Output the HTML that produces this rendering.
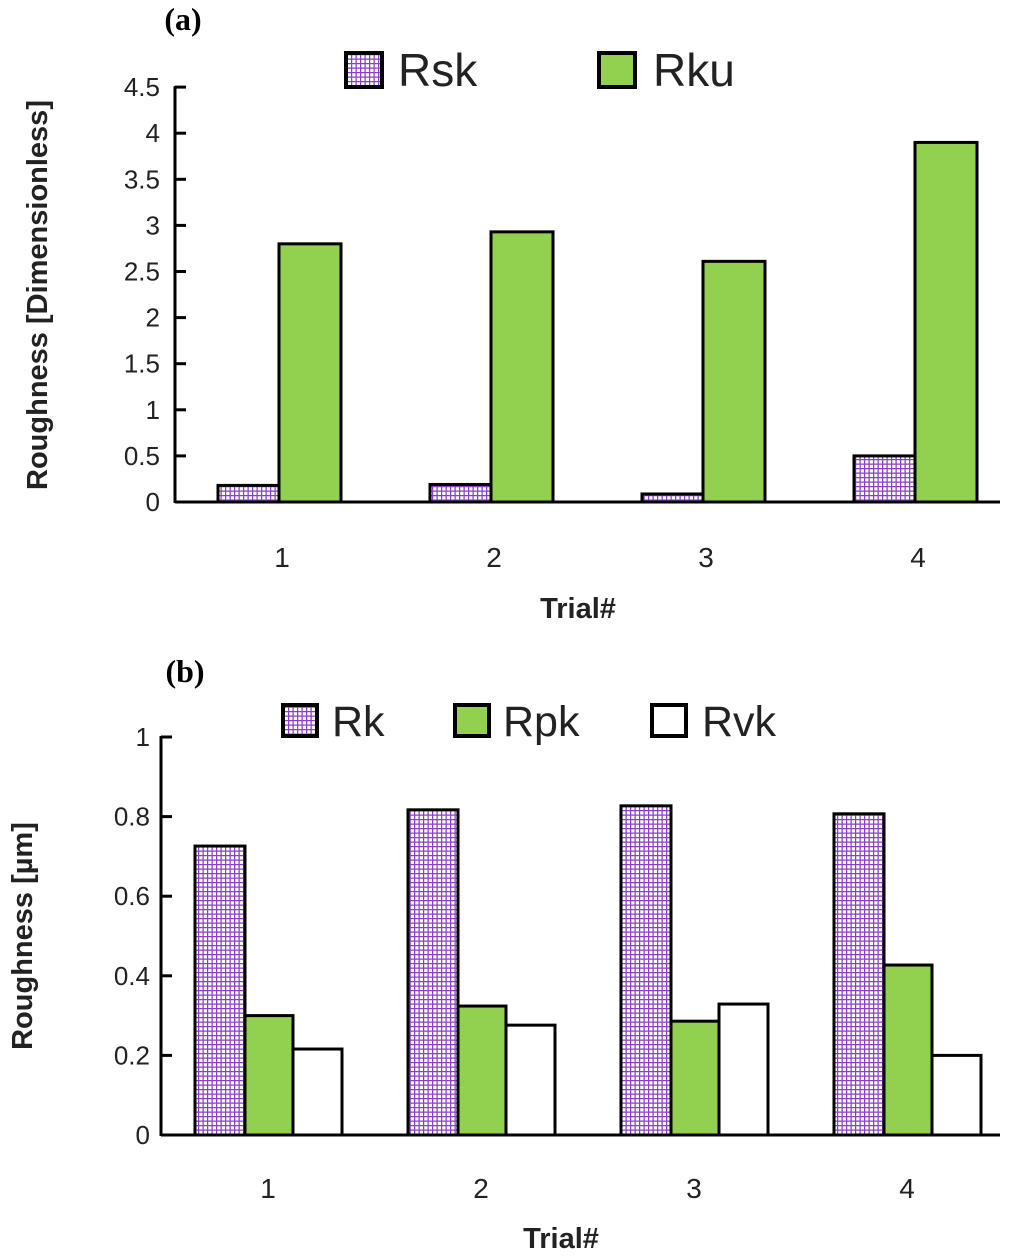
<!DOCTYPE html>
<html><head><meta charset="utf-8"><style>
body{margin:0;background:#fff;}
svg text{font-family:"Liberation Sans","DejaVu Sans",sans-serif;}
svg text.serif{font-family:"Liberation Serif",serif;}
</style></head><body>
<svg width="1024" height="1251" viewBox="0 0 1024 1251" xmlns="http://www.w3.org/2000/svg">
<defs>
<pattern id="grid" width="4.5" height="4.5" patternUnits="userSpaceOnUse">
<rect width="4.5" height="4.5" fill="#fff"/>
<path d="M0 0.6H4.5M0.6 0V4.5" stroke="#8a3fc8" stroke-width="1.3"/>
</pattern>
</defs>
<g id="chartA"></g>
<g id="chartB"></g>
</svg>
<script>
const catsA=["1","2","3","4"];
const rsk=[0.18,0.19,0.087,0.5];
const rku=[2.8,2.93,2.61,3.9];
const ticksA=["0","0.5","1","1.5","2","2.5","3","3.5","4","4.5"];
const catsB=["1","2","3","4"];
const rk=[0.726,0.817,0.827,0.807];
const rpk=[0.30,0.324,0.286,0.427];
const rvk=[0.216,0.276,0.329,0.20];
const ticksB=["0","0.2","0.4","0.6","0.8","1"];
const NS="http://www.w3.org/2000/svg";
function mk(p,tag,at,txt){const e=document.createElementNS(NS,tag);for(const k in at)e.setAttribute(k,at[k]);if(txt!==undefined)e.textContent=txt;p.appendChild(e);return e;}

// Chart A
(function(){
const g=document.getElementById('chartA');
const y0=502,pxu=92.2,xL=175,cw=212,xEnd=1000;
const ys=v=>y0-v*pxu;
const t1=mk(g,'text',{x:183,y:30,'font-size':32,'font-weight':'bold','text-anchor':'middle','class':'serif'},'(a)');

ticksA.forEach(t=>{const v=parseFloat(t);
const l=mk(g,'text',{x:160,y:ys(v)+9,'font-size':26,'text-anchor':'end',fill:'#222'},t);

mk(g,'line',{x1:xL,x2:186,y1:ys(v),y2:ys(v),stroke:'#000','stroke-width':3});});
mk(g,'line',{x1:xL,x2:xL,y1:ys(4.5)-1,y2:y0+1,stroke:'#000','stroke-width':3});
mk(g,'line',{x1:xL,x2:xEnd,y1:y0,y2:y0,stroke:'#000','stroke-width':3});
catsA.forEach((c,i)=>{const cx=282+i*cw;
const b1=mk(g,'rect',{x:cx-64,y:ys(rsk[i]),width:61,height:rsk[i]*pxu,fill:'url(#grid)',stroke:'#000','stroke-width':3});

const b2=mk(g,'rect',{x:cx-3,y:ys(rku[i]),width:62,height:rku[i]*pxu,fill:'#92d050',stroke:'#000','stroke-width':3});

const l=mk(g,'text',{x:cx,y:567,'font-size':28,'text-anchor':'middle',fill:'#222'},c);
});
const xt=mk(g,'text',{x:578,y:618,'font-size':29,'font-weight':'bold','text-anchor':'middle',fill:'#222'},'Trial#');

const yt=mk(g,'text',{x:0,y:0,'font-size':29,'font-weight':'bold','text-anchor':'middle',fill:'#222',transform:'translate(47,295) rotate(-90)'},'Roughness [Dimensionless]');

const lg1=mk(g,'rect',{x:346,y:53,width:36,height:34,fill:'url(#grid)',stroke:'#000','stroke-width':4});

const lt1=mk(g,'text',{x:398,y:86,'font-size':46,fill:'#222'},'Rsk');

const lg2=mk(g,'rect',{x:599,y:53,width:36,height:34,fill:'#92d050',stroke:'#000','stroke-width':4});

const lt2=mk(g,'text',{x:653,y:86,'font-size':46,fill:'#222'},'Rku');

})();

// Chart B
(function(){
const g=document.getElementById('chartB');
const y0=1135,pxu=398,xL=161,cw=213,xEnd=1000;
const ys=v=>y0-v*pxu;
const t1=mk(g,'text',{x:185,y:682,'font-size':32,'font-weight':'bold','text-anchor':'middle','class':'serif'},'(b)');

ticksB.forEach(t=>{const v=parseFloat(t);
const l=mk(g,'text',{x:150,y:ys(v)+9,'font-size':26,'text-anchor':'end',fill:'#222'},t);

mk(g,'line',{x1:xL,x2:172,y1:ys(v),y2:ys(v),stroke:'#000','stroke-width':3});});
mk(g,'line',{x1:xL,x2:xL,y1:ys(1)-1,y2:y0+1,stroke:'#000','stroke-width':3});
mk(g,'line',{x1:xL,x2:xEnd,y1:y0,y2:y0,stroke:'#000','stroke-width':3});
catsB.forEach((c,i)=>{const cx=268+i*cw;
const b1=mk(g,'rect',{x:cx-73,y:ys(rk[i]),width:50,height:rk[i]*pxu,fill:'url(#grid)',stroke:'#000','stroke-width':3});

const b2=mk(g,'rect',{x:cx-23,y:ys(rpk[i]),width:48,height:rpk[i]*pxu,fill:'#92d050',stroke:'#000','stroke-width':3});

const b3=mk(g,'rect',{x:cx+25,y:ys(rvk[i]),width:49,height:rvk[i]*pxu,fill:'#fff',stroke:'#000','stroke-width':3});

const l=mk(g,'text',{x:cx,y:1198,'font-size':28,'text-anchor':'middle',fill:'#222'},c);
});
const xt=mk(g,'text',{x:561,y:1248,'font-size':29,'font-weight':'bold','text-anchor':'middle',fill:'#222'},'Trial#');

const yt=mk(g,'text',{x:0,y:0,'font-size':29,'font-weight':'bold','text-anchor':'middle',fill:'#222',transform:'translate(32,936) rotate(-90)'},'Roughness [µm]');

const L=[["rk",283,332,'url(#grid)','Rk'],["rpk",455,503,'#92d050','Rpk'],["rvk",652,702,'#fff','Rvk']];
L.forEach(d=>{
const s=mk(g,'rect',{x:d[1],y:705,width:34,height:31,fill:d[3],stroke:'#000','stroke-width':4});

const t=mk(g,'text',{x:d[2],y:736,'font-size':43,fill:'#222'},d[4]);
});
})();
</script>
</body></html>
